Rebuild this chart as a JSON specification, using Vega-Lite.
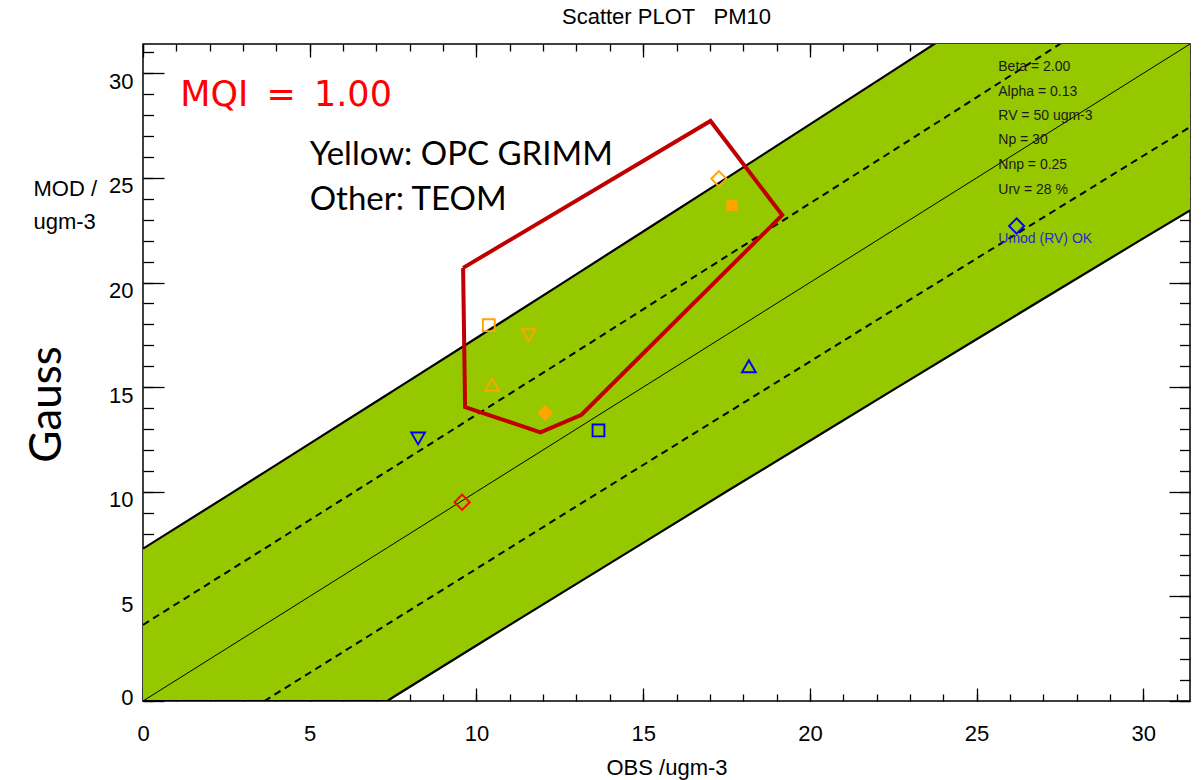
{
  "$schema": "https://vega.github.io/schema/vega-lite/v6.json",
  "width": 1047,
  "height": 657,
  "autosize": {"type": "none"},
  "padding": {"left": 143, "top": 44, "right": 13, "bottom": 79},
  "background": "white",
  "config": {"view": {"stroke": "#000", "strokeWidth": 1.5}, "font": "Liberation Sans"},
  "title": {"text": "Scatter PLOT\u00a0\u00a0\u00a0PM10", "font": "Liberation Sans", "fontSize": 22, "fontWeight": "normal", "color": "#000", "anchor": "middle", "offset": 14},
  "datasets": {
    "band": [
      {"x": 0, "up2": 7.28, "up1": 3.64, "lo1": null, "lo2": 0},
      {"x": 2.5, "up2": 9.78, "up1": 6.14, "lo1": null, "lo2": 0},
      {"x": 3.64, "up2": 10.93, "up1": 7.28, "lo1": 0, "lo2": 0},
      {"x": 5, "up2": 12.30, "up1": 8.65, "lo1": 1.35, "lo2": 0},
      {"x": 7.33, "up2": 14.65, "up1": 10.99, "lo1": 3.67, "lo2": 0},
      {"x": 7.5, "up2": 14.82, "up1": 11.16, "lo1": 3.84, "lo2": 0.18},
      {"x": 10, "up2": 17.35, "up1": 13.68, "lo1": 6.32, "lo2": 2.65},
      {"x": 12.5, "up2": 19.89, "up1": 16.19, "lo1": 8.81, "lo2": 5.11},
      {"x": 15, "up2": 22.44, "up1": 18.72, "lo1": 11.28, "lo2": 7.56},
      {"x": 17.5, "up2": 24.99, "up1": 21.25, "lo1": 13.75, "lo2": 10.01},
      {"x": 20, "up2": 27.56, "up1": 23.78, "lo1": 16.22, "lo2": 12.44},
      {"x": 22.5, "up2": 30.13, "up1": 26.31, "lo1": 18.69, "lo2": 14.87},
      {"x": 25, "up2": 32.71, "up1": 28.85, "lo1": 21.15, "lo2": 17.29},
      {"x": 27.5, "up2": 35.30, "up1": 31.40, "lo1": 23.60, "lo2": 19.70},
      {"x": 30, "up2": 37.89, "up1": 33.94, "lo1": 26.06, "lo2": 22.11},
      {"x": 31.4, "up2": 39.35, "up1": 35.37, "lo1": 27.43, "lo2": 23.45}
    ],
    "region": [
      {"vertex": 1, "obs": 9.60, "mod": 20.70},
      {"vertex": 2, "obs": 17.02, "mod": 27.72},
      {"vertex": 3, "obs": 19.17, "mod": 23.22},
      {"vertex": 4, "obs": 13.15, "mod": 13.68},
      {"vertex": 5, "obs": 11.92, "mod": 12.84},
      {"vertex": 6, "obs": 9.66, "mod": 14.05},
      {"vertex": 7, "obs": 9.60, "mod": 20.70}
    ],
    "points": [
      {"station": "S1", "instrument": "OPC GRIMM", "obs": 17.27, "mod": 24.96},
      {"station": "S2", "instrument": "OPC GRIMM", "obs": 17.66, "mod": 23.68},
      {"station": "S3", "instrument": "TEOM", "obs": 26.2, "mod": 22.7},
      {"station": "S4", "instrument": "OPC GRIMM", "obs": 10.37, "mod": 17.96},
      {"station": "S5", "instrument": "OPC GRIMM", "obs": 11.57, "mod": 17.48},
      {"station": "S6", "instrument": "OPC GRIMM", "obs": 10.47, "mod": 15.12},
      {"station": "S7", "instrument": "OPC GRIMM", "obs": 12.06, "mod": 13.77},
      {"station": "S8", "instrument": "TEOM", "obs": 13.66, "mod": 12.93},
      {"station": "S9", "instrument": "TEOM", "obs": 18.17, "mod": 16.0},
      {"station": "S10", "instrument": "TEOM", "obs": 8.25, "mod": 12.55},
      {"station": "S11", "instrument": "TEOM", "obs": 9.57, "mod": 9.5}
    ],
    "mqi": [{"label": "MQI\u00a0\u2009=\u00a0\u20091.00", "obs": 1.12, "mod": 28.44}],
    "note": [
      {"label": "Yellow: OPC GRIMM", "obs": 5.0, "mod": 25.6},
      {"label": "Other: TEOM", "obs": 5.0, "mod": 23.49}
    ],
    "stats": [
      {"label": "Beta = 2.00", "obs": 25.65, "mod": 30.30},
      {"label": "Alpha = 0.13", "obs": 25.65, "mod": 29.11},
      {"label": "RV = 50 ugm-3", "obs": 25.65, "mod": 27.96},
      {"label": "Np = 30", "obs": 25.65, "mod": 26.79},
      {"label": "Nnp = 0.25", "obs": 25.65, "mod": 25.61},
      {"label": "Urv = 28 %", "obs": 25.65, "mod": 24.42}
    ],
    "status": [{"label": "Umod (RV) OK", "obs": 25.65, "mod": 22.09}]
  },
  "resolve": {"axis": {"x": "independent", "y": "independent"}},
  "layer": [
    {
      "data": {"name": "band"},
      "mark": {"type": "area", "color": "#96C800", "clip": true},
      "encoding": {
        "x": {"field": "x", "type": "quantitative", "scale": {"domain": [0, 31.4], "nice": false, "zero": false},
          "axis": {"orient": "bottom", "values": [0, 5, 10, 15, 20, 25, 30], "ticks": false, "tickSize": 0, "domain": false, "grid": false, "labelPadding": 22, "labelFont": "Liberation Sans", "labelFontSize": 22, "labelColor": "#000", "labelFlush": false, "labelOverlap": false, "title": "OBS /ugm-3", "titleFont": "Liberation Sans", "titleFontSize": 22, "titleFontWeight": "normal", "titleColor": "#000", "titleBaseline": "alphabetic", "titleY": 73}},
        "y": {"field": "up2", "type": "quantitative", "scale": {"domain": [0, 31.4], "nice": false, "zero": false},
          "axis": {"orient": "left", "values": [5, 10, 15, 20, 25, 30], "ticks": false, "tickSize": 0, "domain": false, "grid": false, "labelPadding": 10, "labelOffset": 8, "labelFont": "Liberation Sans", "labelFontSize": 22, "labelColor": "#000", "labelFlush": false, "labelOverlap": false, "title": ["MOD /", "ugm-3"], "titleAngle": 0, "titleAlign": "left", "titleBaseline": "alphabetic", "titleX": -110, "titleY": 151, "titleLineHeight": 33, "titleFont": "Liberation Sans", "titleFontSize": 22, "titleFontWeight": "normal", "titleColor": "#000"}},
        "y2": {"field": "lo2"}
      }
    },
    {
      "data": {"name": "band"},
      "mark": {"type": "line", "color": "#000", "strokeWidth": 2.2, "clip": true},
      "encoding": {
        "x": {"field": "x", "type": "quantitative", "scale": {"domain": [0, 31.4], "nice": false, "zero": false},
          "axis": {"orient": "bottom", "values": [0, 5, 10, 15, 20, 25, 30], "labels": false, "domain": false, "grid": false, "tickSize": -13, "tickColor": "#000", "tickWidth": 1.3, "title": null}},
        "y": {"field": "up2", "type": "quantitative", "scale": {"domain": [0, 31.4], "nice": false, "zero": false},
          "axis": {"orient": "left", "values": [0, 5, 10, 15, 20, 25, 30], "labels": false, "domain": false, "grid": false, "tickSize": -21, "tickColor": "#000", "tickWidth": 1.3, "title": null}}
      }
    },
    {
      "data": {"name": "band"},
      "mark": {"type": "line", "color": "#000", "strokeWidth": 2.2, "clip": true},
      "encoding": {
        "x": {"field": "x", "type": "quantitative", "scale": {"domain": [0, 31.4], "nice": false, "zero": false},
          "axis": {"orient": "bottom", "values": [0, 1, 2, 3, 4, 5, 6, 7, 8, 9, 10, 11, 12, 13, 14, 15, 16, 17, 18, 19, 20, 21, 22, 23, 24, 25, 26, 27, 28, 29, 30, 31], "labels": false, "domain": false, "grid": false, "tickSize": -7, "tickColor": "#000", "tickWidth": 1.3, "title": null}},
        "y": {"field": "lo2", "type": "quantitative", "scale": {"domain": [0, 31.4], "nice": false, "zero": false},
          "axis": {"orient": "left", "values": [0, 1, 2, 3, 4, 5, 6, 7, 8, 9, 10, 11, 12, 13, 14, 15, 16, 17, 18, 19, 20, 21, 22, 23, 24, 25, 26, 27, 28, 29, 30, 31], "labels": false, "domain": false, "grid": false, "tickSize": -10.5, "tickColor": "#000", "tickWidth": 1.3, "title": null}}
      }
    },
    {
      "data": {"name": "band"},
      "mark": {"type": "line", "color": "#000", "strokeWidth": 2, "strokeDash": [7, 5], "clip": true},
      "encoding": {
        "x": {"field": "x", "type": "quantitative", "scale": {"domain": [0, 31.4], "nice": false, "zero": false},
          "axis": {"orient": "top", "values": [0, 5, 10, 15, 20, 25, 30], "labels": false, "domain": false, "grid": false, "tickSize": -13, "tickColor": "#000", "tickWidth": 1.3, "title": null}},
        "y": {"field": "up1", "type": "quantitative", "scale": {"domain": [0, 31.4], "nice": false, "zero": false},
          "axis": {"orient": "right", "values": [0, 5, 10, 15, 20, 25, 30], "labels": false, "domain": false, "grid": false, "tickSize": -21, "tickColor": "#000", "tickWidth": 1.3, "title": null}}
      }
    },
    {
      "data": {"name": "band"},
      "mark": {"type": "line", "color": "#000", "strokeWidth": 2, "strokeDash": [7, 5], "clip": true},
      "encoding": {
        "x": {"field": "x", "type": "quantitative", "scale": {"domain": [0, 31.4], "nice": false, "zero": false},
          "axis": {"orient": "top", "values": [0, 1, 2, 3, 4, 5, 6, 7, 8, 9, 10, 11, 12, 13, 14, 15, 16, 17, 18, 19, 20, 21, 22, 23, 24, 25, 26, 27, 28, 29, 30, 31], "labels": false, "domain": false, "grid": false, "tickSize": -7, "tickColor": "#000", "tickWidth": 1.3, "title": null}},
        "y": {"field": "lo1", "type": "quantitative", "scale": {"domain": [0, 31.4], "nice": false, "zero": false},
          "axis": {"orient": "right", "values": [0, 1, 2, 3, 4, 5, 6, 7, 8, 9, 10, 11, 12, 13, 14, 15, 16, 17, 18, 19, 20, 21, 22, 23, 24, 25, 26, 27, 28, 29, 30, 31], "labels": false, "domain": false, "grid": false, "tickSize": -10.5, "tickColor": "#000", "tickWidth": 1.3, "title": null}}
      }
    },
    {
      "data": {"name": "band"},
      "mark": {"type": "line", "color": "#000", "strokeWidth": 1, "clip": true},
      "encoding": {
        "x": {"field": "x", "type": "quantitative", "scale": {"domain": [0, 31.4], "nice": false, "zero": false}, "axis": null},
        "y": {"field": "x", "type": "quantitative", "scale": {"domain": [0, 31.4], "nice": false, "zero": false},
          "axis": {"orient": "left", "values": [0], "ticks": false, "tickSize": 0, "domain": false, "grid": false, "labelPadding": 10, "labelOffset": -4, "labelFont": "Liberation Sans", "labelFontSize": 22, "labelColor": "#000", "labelFlush": false, "title": "Gauss", "titleFont": "Lato", "titleFontSize": 44, "titleFontWeight": "normal", "titleColor": "#000", "titleAngle": 270, "titleAlign": "center", "titleBaseline": "alphabetic", "titleX": -83, "titleY": 360}}
      }
    },
    {
      "data": {"name": "region"},
      "mark": {"type": "line", "color": "#C00000", "strokeWidth": 4, "strokeJoin": "miter", "clip": true},
      "encoding": {
        "x": {"field": "obs", "type": "quantitative", "scale": {"domain": [0, 31.4], "nice": false, "zero": false}, "axis": null},
        "y": {"field": "mod", "type": "quantitative", "scale": {"domain": [0, 31.4], "nice": false, "zero": false}, "axis": null},
        "order": {"field": "vertex", "type": "quantitative"}
      }
    },
    {
      "data": {"name": "points"},
      "transform": [{"filter": {"not": {"field": "station", "oneOf": ["S2", "S7"]}}}],
      "mark": {"type": "point", "filled": false, "strokeWidth": 1.9, "opacity": 1},
      "encoding": {
        "x": {"field": "obs", "type": "quantitative", "scale": {"domain": [0, 31.4], "nice": false, "zero": false}, "axis": null},
        "y": {"field": "mod", "type": "quantitative", "scale": {"domain": [0, 31.4], "nice": false, "zero": false}, "axis": null},
        "shape": {"field": "station", "type": "nominal", "legend": null,
          "scale": {"domain": ["S1", "S2", "S3", "S4", "S5", "S6", "S7", "S8", "S9", "S10", "S11"], "range": ["diamond", "square", "diamond", "square", "triangle-down", "triangle-up", "diamond", "square", "triangle-up", "triangle-down", "diamond"]}},
        "color": {"field": "station", "type": "nominal", "legend": null,
          "scale": {"domain": ["S1", "S2", "S3", "S4", "S5", "S6", "S7", "S8", "S9", "S10", "S11"], "range": ["#FFA500", "#FFA500", "#0000FF", "#FFA500", "#FFA500", "#FFA500", "#FFA500", "#0000FF", "#0000FF", "#0000FF", "#FF0000"]}},
        "size": {"field": "station", "type": "nominal", "legend": null,
          "scale": {"type": "ordinal", "domain": ["S1", "S2", "S3", "S4", "S5", "S6", "S7", "S8", "S9", "S10", "S11"], "range": [230, 121, 230, 140, 190, 190, 260, 140, 190, 190, 230]}}
      }
    },
    {
      "data": {"name": "points"},
      "transform": [{"filter": {"field": "station", "oneOf": ["S2", "S7"]}}],
      "mark": {"type": "point", "filled": true, "opacity": 1},
      "encoding": {
        "x": {"field": "obs", "type": "quantitative", "scale": {"domain": [0, 31.4], "nice": false, "zero": false}, "axis": null},
        "y": {"field": "mod", "type": "quantitative", "scale": {"domain": [0, 31.4], "nice": false, "zero": false}, "axis": null},
        "shape": {"field": "station", "type": "nominal", "legend": null,
          "scale": {"domain": ["S1", "S2", "S3", "S4", "S5", "S6", "S7", "S8", "S9", "S10", "S11"], "range": ["diamond", "square", "diamond", "square", "triangle-down", "triangle-up", "diamond", "square", "triangle-up", "triangle-down", "diamond"]}},
        "color": {"field": "station", "type": "nominal", "legend": null,
          "scale": {"domain": ["S1", "S2", "S3", "S4", "S5", "S6", "S7", "S8", "S9", "S10", "S11"], "range": ["#FFA500", "#FFA500", "#0000FF", "#FFA500", "#FFA500", "#FFA500", "#FFA500", "#0000FF", "#0000FF", "#0000FF", "#FF0000"]}},
        "size": {"field": "station", "type": "nominal", "legend": null,
          "scale": {"type": "ordinal", "domain": ["S1", "S2", "S3", "S4", "S5", "S6", "S7", "S8", "S9", "S10", "S11"], "range": [230, 121, 230, 140, 190, 190, 260, 140, 190, 190, 230]}}
      }
    },
    {
      "data": {"name": "mqi"},
      "mark": {"type": "text", "font": "DejaVu Sans", "fontSize": 35, "color": "#FF0000", "align": "left", "baseline": "alphabetic"},
      "encoding": {
        "x": {"field": "obs", "type": "quantitative", "scale": {"domain": [0, 31.4], "nice": false, "zero": false}, "axis": null},
        "y": {"field": "mod", "type": "quantitative", "scale": {"domain": [0, 31.4], "nice": false, "zero": false}, "axis": null},
        "text": {"field": "label"}
      }
    },
    {
      "data": {"name": "note"},
      "mark": {"type": "text", "font": "Lato", "fontSize": 33, "color": "#000", "align": "left", "baseline": "alphabetic"},
      "encoding": {
        "x": {"field": "obs", "type": "quantitative", "scale": {"domain": [0, 31.4], "nice": false, "zero": false}, "axis": null},
        "y": {"field": "mod", "type": "quantitative", "scale": {"domain": [0, 31.4], "nice": false, "zero": false}, "axis": null},
        "text": {"field": "label"}
      }
    },
    {
      "data": {"name": "stats"},
      "mark": {"type": "text", "font": "Liberation Sans", "fontSize": 14, "color": "#1a1a1a", "align": "left", "baseline": "middle"},
      "encoding": {
        "x": {"field": "obs", "type": "quantitative", "scale": {"domain": [0, 31.4], "nice": false, "zero": false}, "axis": null},
        "y": {"field": "mod", "type": "quantitative", "scale": {"domain": [0, 31.4], "nice": false, "zero": false}, "axis": null},
        "text": {"field": "label"}
      }
    },
    {
      "data": {"name": "status"},
      "mark": {"type": "text", "font": "Liberation Sans", "fontSize": 14, "color": "#2828D8", "align": "left", "baseline": "middle"},
      "encoding": {
        "x": {"field": "obs", "type": "quantitative", "scale": {"domain": [0, 31.4], "nice": false, "zero": false}, "axis": null},
        "y": {"field": "mod", "type": "quantitative", "scale": {"domain": [0, 31.4], "nice": false, "zero": false}, "axis": null},
        "text": {"field": "label"}
      }
    }
  ]
}
